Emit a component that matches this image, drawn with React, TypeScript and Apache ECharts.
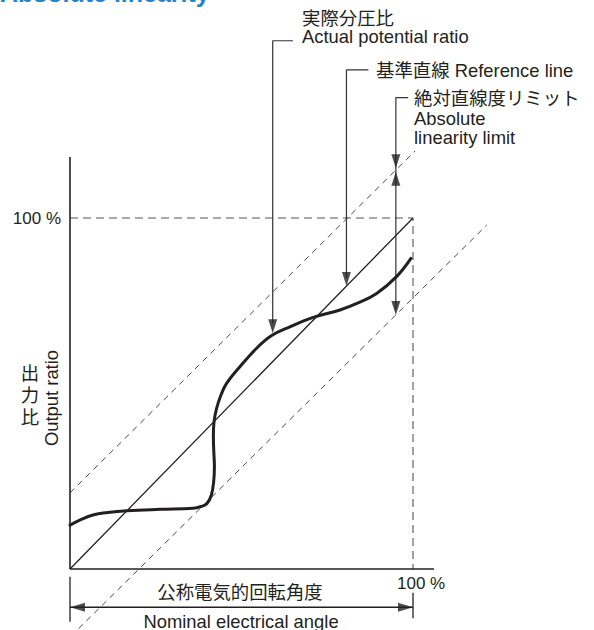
import React, { useEffect, useRef } from "react";
import * as echarts from "echarts";

// ---- data (percent of full scale) ----
const curveX = [0, 3, 6.7, 11, 16.6, 26.2, 35.9, 38.2, 39.9, 41.2, 41.9, 42.1, 41.9, 41.8, 42.0, 42.7, 43.8, 45.6, 49.6, 54.4, 58.8, 64.1, 70.9, 78.7, 84, 89.4, 95.2, 99.4];
const curveY = [12.5, 14.0, 15.4, 16.1, 16.6, 17.0, 17.3, 17.8, 18.6, 21.0, 25, 29.1, 34, 38, 42, 45.6, 49.0, 52.8, 57.7, 62.9, 66.5, 69.0, 71.7, 73.8, 75.8, 78.5, 83.3, 88.5];
const refLine = [[0, 0], [100, 100]];
const upperLimit = [[0, 21.7], [100.6, 119.1]];
const lowerLimit = [[2.5, -17], [121.5, 98]];
const fullScaleGuide = [[0, 100], [100, 100], [100, 0]];
const yAxisLine = [[0, 0], [0, 117.4]];
const xAxisLine = [[0, 0], [106.1, 0]];
const actualLeader = [[65.0, 150.5], [59.1, 150.5], [59.1, 70]];
const refLeader = [[87.0, 142.2], [80.6, 142.2], [80.6, 83]];
const limitLeader = [[98.6, 134.3], [95.0, 134.3], [95.0, 74]];
const dimLine = [[0, -10.9], [100, -10.9]];
const dimTickLeft = [[0, -2.2], [0, -15.0]];
const dimTickRight = [[100, -6.8], [100, -14.0]];
const arrowDown = [[59.1, 67.2], [80.6, 80.6], [95.0, 114.2], [95.0, 72.4]];
const arrowUp = [[95.0, 113.2]];
const arrowLeft = [[0, -10.9]];
const arrowRight = [[100, -10.9]];
const tickLabels = ["100 %", "100 %"];
const titleText = "Absolute linearity";
const actualLabel = ["実際分圧比", "Actual potential ratio"];
const refLabel = "基準直線 Reference line";
const limitLabel = ["絶対直線度リミット", "Absolute", "linearity limit"];
const xLabel = ["公称電気的回転角度", "Nominal electrical angle"];
const yLabelJa = ["出", "力", "比"];
const yLabelEn = "Output ratio";

// ---- layout ----
const X_MIN = -20, X_MAX = 150, Y_MIN = -17, Y_MAX = 160;
const OX = 70, OY = 569, PX = 3.43, PY = 3.51;
const INK = "#231f20";
const FONT = "'Liberation Sans', Arial, 'Noto Sans CJK JP', sans-serif";

const line = (data: number[][], style: any, extra: any = {}) => ({
  type: "line",
  data,
  symbol: "none",
  silent: true,
  clip: false,
  lineStyle: style,
  ...extra,
});

const arrow = (data: number[][], path: string, size: number[], offset: number[]) => ({
  type: "scatter",
  data,
  symbol: path,
  symbolSize: size,
  symbolOffset: offset,
  silent: true,
  clip: false,
  itemStyle: { color: INK },
  z: 5,
});

const txt = (text: string, x: number, y: number, align: string, size = 18.4, extra: any = {}) => ({
  type: "text",
  x,
  y,
  silent: true,
  style: {
    text,
    fill: INK,
    font: `${size}px ${FONT}`,
    align,
    textAlign: align,
    verticalAlign: "middle",
    textVerticalAlign: "middle",
  },
  ...extra,
});

export default function App() {
  const ref = useRef<HTMLDivElement>(null);
  useEffect(() => {
    if (!ref.current) return;
    const chart = echarts.init(ref.current, undefined, { renderer: "svg" });
    const dashedDiag = { color: "#333", width: 0.9, type: [6, 5] };
    chart.setOption({
      animation: false,
      grid: {
        left: OX + X_MIN * PX,
        width: (X_MAX - X_MIN) * PX,
        top: OY - Y_MAX * PY,
        height: (Y_MAX - Y_MIN) * PY,
      },
      xAxis: { type: "value", min: X_MIN, max: X_MAX, show: false },
      yAxis: { type: "value", min: Y_MIN, max: Y_MAX, show: false },
      series: [
        line(fullScaleGuide, { color: "#555", width: 1.1, type: [8, 5] }),
        line(upperLimit, dashedDiag),
        line(lowerLimit, dashedDiag),
        line(refLine, { color: INK, width: 1.3 }),
        line(yAxisLine, { color: INK, width: 1.6 }),
        line(xAxisLine, { color: INK, width: 1.6 }),
        line(actualLeader, { color: "#333", width: 1.2 }),
        line(refLeader, { color: "#333", width: 1.2 }),
        line(limitLeader, { color: "#333", width: 1.2 }),
        line(dimLine, { color: INK, width: 1.3 }),
        line(dimTickLeft, { color: INK, width: 1.3 }),
        line(dimTickRight, { color: INK, width: 1.3 }),
        line(
          curveX.map((x, i) => [x, curveY[i]]),
          { color: INK, width: 3, cap: "round", join: "round" },
          { smooth: 0.4, z: 4 }
        ),
        arrow(arrowDown, "path://M0,0L9,0L4.5,14Z", [9, 14], [0, -7]),
        arrow(arrowUp, "path://M4.5,0L9,14L0,14Z", [9, 14], [0, 7]),
        arrow(arrowLeft, "path://M0,4.5L15,0L15,9Z", [15, 9], [7.5, 0]),
        arrow(arrowRight, "path://M0,0L15,4.5L0,9Z", [15, 9], [-7.5, 0]),
      ],
      graphic: [
        {
          type: "text",
          x: 0,
          y: -7,
          silent: true,
          style: {
            text: titleText,
            fill: "#1b87d1",
            font: `bold 25px ${FONT}`,
            align: "left",
            textAlign: "left",
            verticalAlign: "middle",
            textVerticalAlign: "middle",
          },
        },
        txt(actualLabel[0], 302, 18, "left"),
        txt(actualLabel[1], 302, 36, "left"),
        txt(refLabel, 376, 70, "left"),
        txt(limitLabel[0], 414, 98, "left"),
        txt(limitLabel[1], 414, 118, "left"),
        txt(limitLabel[2], 414, 137, "left"),
        txt(tickLabels[0], 61, 218, "right", 17),
        txt(tickLabels[1], 397, 583, "left", 17),
        txt(xLabel[0], 240, 592, "center"),
        txt(xLabel[1], 241, 621, "center"),
        txt(yLabelJa[0], 30, 373, "center"),
        txt(yLabelJa[1], 30, 395, "center"),
        txt(yLabelJa[2], 30, 417, "center"),
        txt(yLabelEn, 51, 398, "center", 18.4, { rotation: Math.PI / 2 }),
      ],
    });
    return () => chart.dispose();
  }, []);
  return (
    <div
      ref={ref}
      style={{ position: "absolute", left: 0, top: 0, width: 594, height: 630 }}
    />
  );
}
